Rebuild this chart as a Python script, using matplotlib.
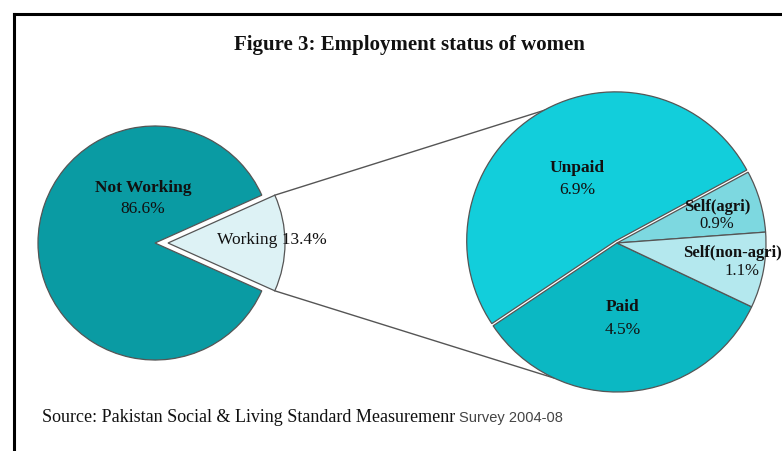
import numpy as np
import matplotlib.pyplot as plt
from matplotlib.lines import Line2D

# data
outer_labels = ["Working", "Not Working"]
outer_values = [13.4, 86.6]
outer_colors = ["#ddf2f5", "#0a9ba3"]

inner_labels = ["Self(agri)", "Unpaid", "Paid", "Self(non-agri)"]
inner_values = [0.9, 6.9, 4.5, 1.1]
inner_colors = ["#7dd8e0", "#12cedb", "#0bb8c3", "#b4e8ee"]

W, H = 782, 451
SERIF = ["Liberation Serif", "DejaVu Serif"]


def py(y):
    """Pixel row (top-down) -> data y (bottom-up)."""
    return H - y


fig = plt.figure(figsize=(W / 100, H / 100), dpi=100)
ax = fig.add_axes([0, 0, 1, 1])

# left pie, working slice pulled out (explode is in data units here)
c1, r1 = (155, py(243)), 117
half = outer_values[0] / 100 * 180
w1, _ = ax.pie(outer_values, colors=outer_colors, startangle=-half,
               center=c1, radius=r1, explode=[13, 0],
               wedgeprops=dict(edgecolor="#555555", linewidth=0.9))

# right pie (breakdown of working women)
c2, r2 = (617, py(243)), 149
w2, _ = ax.pie(inner_values, colors=inner_colors, startangle=4.2,
               center=c2, radius=r2, explode=[0, 2.5, 0, 0],
               wedgeprops=dict(edgecolor="#555555", linewidth=0.9))

# pie() resets the limits, so fix them now (1 data unit = 1 pixel)
ax.set_xlim(0, W)
ax.set_ylim(0, H)
ax.set_aspect("equal")
ax.axis("off")

# connector lines from the working slice to the right pie
wk = w1[0]
cx, cy = wk.center
for th1, th2 in [(wk.theta2, 112.5), (wk.theta1, 245.0)]:
    x0 = cx + wk.r * np.cos(np.radians(th1))
    y0 = cy + wk.r * np.sin(np.radians(th1))
    x1 = c2[0] + r2 * np.cos(np.radians(th2))
    y1 = c2[1] + r2 * np.sin(np.radians(th2))
    ax.plot([x0, x1], [y0, y1], color="#555555", lw=1.0, zorder=0)

# slice labels
lab = dict(ha="center", va="center", family=SERIF, color="#111111")
ax.text(143, py(188), "Not Working", fontsize=12.5, fontweight="bold", **lab)
ax.text(143, py(209), "86.6%", fontsize=12.5, **lab)
ax.text(272, py(240), "Working 13.4%", fontsize=12.5, **lab)
ax.text(577, py(168), "Unpaid", fontsize=12.5, fontweight="bold", **lab)
ax.text(577, py(190), "6.9%", fontsize=12.5, **lab)
ax.text(717, py(207), "Self(agri)", fontsize=12, fontweight="bold", **lab)
ax.text(717, py(224), "0.9%", fontsize=12, **lab)
ax.text(732, py(253), "Self(non-agri)", fontsize=12, fontweight="bold",
        **lab)
ax.text(742, py(271), "1.1%", fontsize=12, **lab)
ax.text(623, py(307), "Paid", fontsize=12.5, fontweight="bold", **lab)
ax.text(623, py(330), "4.5%", fontsize=12.5, **lab)

# title and source
ax.text(409, py(45), "Figure 3: Employment status of women", ha="center",
        va="center", family=SERIF, fontsize=15, fontweight="bold",
        color="#111111")
src = ax.text(42, py(418), "Source: Pakistan Social & Living Standard Measuremenr",
              ha="left", va="center", family=SERIF, fontsize=13,
              color="#111111")
fig.canvas.draw()
bb = src.get_window_extent()
x_end = ax.transData.inverted().transform((bb.x1, bb.y0))[0]
ax.text(x_end + 4, py(418), "Survey 2004-08", ha="left", va="center",
        family=["Liberation Sans", "DejaVu Sans"], fontsize=10.5,
        color="#444444")

# frame (cropped on the right and bottom)
ax.add_line(Line2D([14, W + 5], [py(14), py(14)], color="black", lw=2.2))
ax.add_line(Line2D([14, 14], [py(14), -5], color="black", lw=2.2))

fig.savefig("out.png", dpi=100)
